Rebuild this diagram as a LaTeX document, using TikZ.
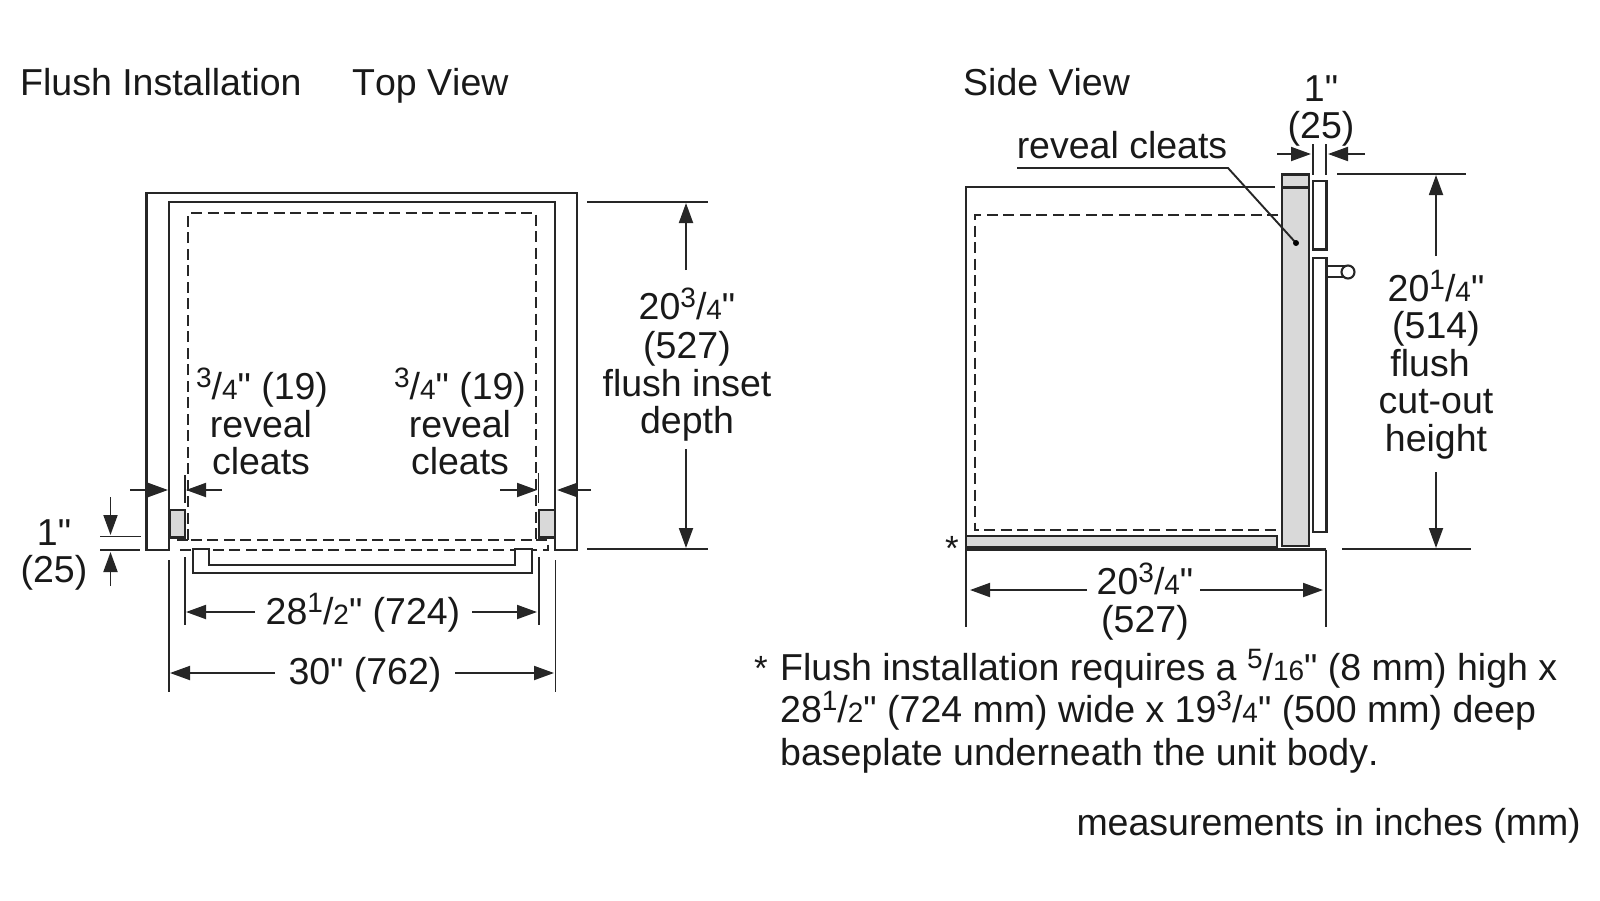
\documentclass[tikz,border=0pt]{standalone}
\usepackage{fontspec}
\setmainfont[Ligatures=TeXOff,Kerning=Off]{Liberation Sans}
\usetikzlibrary{arrows.meta}
\newcommand{\fr}[2]{\raisebox{12pt}{\fontsize{28}{28}\selectfont #1}/{\fontsize{28}{28}\selectfont #2}}
\begin{document}
\begin{tikzpicture}[x=1pt,y=-1pt]
  \tikzstyle{txt}=[inner sep=0pt,anchor=base,font=\fontsize{37.5}{37.5}\selectfont,text=black!90]
  \tikzstyle{txtl}=[txt,anchor=base west]
  \tikzstyle{outline}=[draw=black!85,line width=2.1pt]
  \tikzstyle{cleat}=[outline,fill=black!15]
  \tikzstyle{hidden}=[draw=black!85,line width=2.3pt,dash pattern=on 11pt off 5.5pt]
  \tikzstyle{thin}=[draw=black!85,line width=1.9pt]
  \tikzstyle{dim}=[thin,-{Triangle[length=20pt,width=14pt]}]
  \useasboundingbox (0,0) rectangle (1600,900);
  % top view
  \draw[outline] (169,550) -- (146.5,550) -- (146.5,193) -- (577,193) -- (577,550) -- (555,550) -- (555,202) -- (169,202) -- cycle;
  \draw[hidden] (188,540) -- (188,213) -- (536,213) -- (536,540) -- cycle;
  \draw[hidden] (177,540) -- (188,540);
  \draw[hidden] (536,540) -- (548,540) -- (548,550) -- (177,550);
  \draw[cleat] (169.5,510) rectangle (185,537.5);
  \draw[cleat] (539,510) rectangle (555,537.5);
  \draw[outline,fill=white] (193,549) -- (193,573) -- (531.7,573) -- (531.7,549) -- (515,549) -- (515,565) -- (209,565) -- (209,549) -- cycle;
  \draw[thin] (185,475) -- (185,503);
  \draw[thin] (538.5,473) -- (538.5,503);
  \draw[dim] (130,490) -- (168,490);
  \draw[dim] (222,490) -- (186,490);
  \draw[dim] (500,490) -- (537,490);
  \draw[dim] (591,490) -- (557,490);
  \draw[thin] (100,536.5) -- (141,536.5);
  \draw[thin] (100,550) -- (140,550);
  \draw[dim] (110.5,497) -- (110.5,535);
  \draw[dim] (110.5,586) -- (110.5,552);
  \draw[thin] (169,560) -- (169,692);
  \draw[thin] (185,557) -- (185,625);
  \draw[thin] (539,557) -- (539,625);
  \draw[thin] (555.5,560) -- (555.5,692);
  \draw[dim] (255,612) -- (186,612);
  \draw[dim] (472,612) -- (537,612);
  \draw[dim] (275,673) -- (170,673);
  \draw[dim] (455,673) -- (554,673);
  \draw[thin] (587,202) -- (708,202);
  \draw[thin] (587,549) -- (708,549);
  \draw[dim] (686,270) -- (686,203);
  \draw[dim] (686,449) -- (686,548);
  % side view
  \draw[outline] (1275,187) -- (966,187) -- (966,549.5) -- (1326,549.5);
  \draw[thin] (966,549.5) -- (966,627);
  \draw[thin] (1326,549.5) -- (1326,627);
  \draw[hidden] (1278,215) -- (975,215) -- (975,530) -- (1281,530);
  \draw[cleat] (966,535.7) rectangle (1277,547);
  \draw[draw=black!85,line width=3pt] (966,548.5) -- (1277,548.5);
  \draw[cleat] (1282,174.5) rectangle (1309,546);
  \draw[outline] (1282,187.5) -- (1309,187.5);
  \draw[outline,fill=white] (1313,181) rectangle (1326.5,249.5);
  \draw[outline,fill=white] (1327,266) rectangle (1345,277);
  \draw[outline,fill=white] (1348,272) circle (6.5);
  \draw[outline,fill=white] (1313,258) rectangle (1326.5,532);
  \draw[thin] (1313,144) -- (1313,175);
  \draw[thin] (1326,144) -- (1326,175);
  \draw[dim] (1277,154) -- (1311,154);
  \draw[dim] (1365,154) -- (1328,154);
  \draw[thin] (1017,168) -- (1228,168) -- (1296,243);
  \fill[black] (1296,243) circle (3);
  \draw[thin] (1337,174) -- (1466,174);
  \draw[thin] (1342,549) -- (1471,549);
  \draw[dim] (1436,256) -- (1436,175);
  \draw[dim] (1436,472) -- (1436,548);
  \draw[dim] (1087,590) -- (970,590);
  \draw[dim] (1200,590) -- (1323,590);
  % labels
  \node[txtl] (flushlbl) at (20,95) {Flush Installation};
  \node[txtl] (toplbl) at (352,95) {Top View};
  \node[txtl] (sidelbl) at (963,95) {Side View};
  \node[txt] (lcleat1) at (262,399) {\fr{3}{4}" (19)};
  \node[txt] (lcleat2) at (261,437) {reveal};
  \node[txt] (lcleat3) at (261,474) {cleats};
  \node[txt] (rcleat1) at (460,399) {\fr{3}{4}" (19)};
  \node[txt] (rcleat2) at (460,437) {reveal};
  \node[txt] (rcleat3) at (460,474) {cleats};
  \node[txt] (inset1) at (687,319) {20\fr{3}{4}"};
  \node[txt] (inset2) at (687,358) {(527)};
  \node[txt] (inset3) at (687,396) {flush inset};
  \node[txt] (inset4) at (687,433) {depth};
  \node[txt] (lip1) at (54,545) {1"};
  \node[txt] (lip2) at (54,582) {(25)};
  \node[txt] (width1) at (363,624) {28\fr{1}{2}" (724)};
  \node[txt] (width2) at (365,684) {30" (762)};
  \node[txt] (gap1) at (1321,101) {1"};
  \node[txt] (gap2) at (1321,138) {(25)};
  \node[txt] (revlbl) at (1122,158) {reveal cleats};
  \node[txt] (cut1) at (1436,301) {20\fr{1}{4}"};
  \node[txt] (cut2) at (1436,338) {(514)};
  \node[txt] (cut3) at (1430,376) {flush};
  \node[txt] (cut4) at (1436,413) {cut-out};
  \node[txt] (cut5) at (1436,451) {height};
  \node[txt] (depth1) at (1145,594) {20\fr{3}{4}"};
  \node[txt] (depth2) at (1145,632) {(527)};
  \node[txt,font=\fontsize{35}{35}\selectfont] (star) at (952,560) {*};
  \node[txt,font=\fontsize{35}{35}\selectfont] (fnstar) at (761,680) {*};
  \node[txtl] (fn1) at (780,680) {Flush installation requires a \fr{5}{16}" (8 mm) high x};
  \node[txtl] (fn2) at (780,722) {28\fr{1}{2}" (724 mm) wide x 19\fr{3}{4}" (500 mm) deep};
  \node[txtl] (fn3) at (780,765) {baseplate underneath the unit body.};
  \node[txt,anchor=base east] (units) at (1581,835) {measurements in inches (mm)};
\end{tikzpicture}
\end{document}
